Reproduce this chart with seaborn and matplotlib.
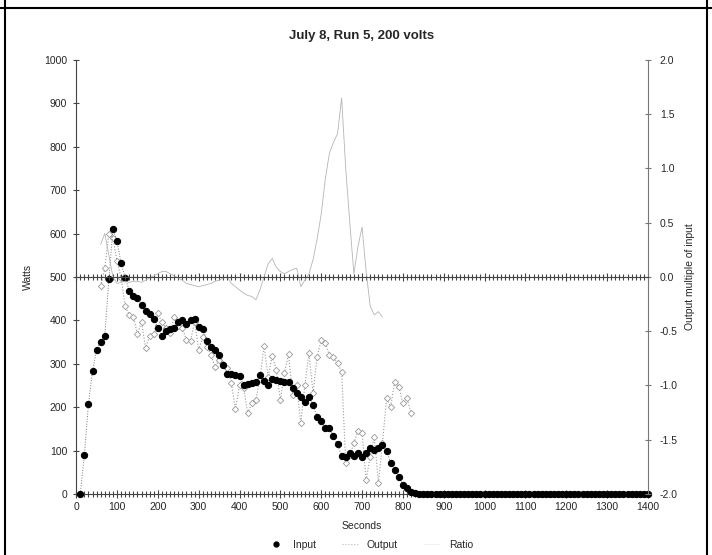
import numpy as np
import pandas as pd
import matplotlib
matplotlib.use('Agg')
import matplotlib.pyplot as plt
from matplotlib.lines import Line2D
from matplotlib.ticker import MultipleLocator
import seaborn as sns

# Input power (W), sampled every 10 s from 10 s to 1400 s
input_seconds = list(range(10, 1410, 10))
input_watts = [0, 90, 207, 283, 332, 351, 363, 495, 610, 582,
               531, 498, 468, 455, 451, 436, 422, 415, 403, 383,
               365, 376, 381, 382, 396, 401, 392, 401, 404, 384,
               380, 352, 339, 332, 321, 297, 277, 276, 275, 272,
               250, 253, 255, 257, 273, 261, 251, 265, 263, 260,
               258, 257, 243, 233, 224, 211, 224, 204, 178, 167,
               151, 151, 134, 114, 88, 86, 94, 88, 95, 86,
               95, 105, 101, 105, 113, 100, 72, 55, 40, 21,
               13, 5, 2] + [0] * 57

# Output power (W), 60 s to 820 s
output_seconds = list(range(60, 830, 10))
output_watts = [479, 520, 600, 590, 537, 498, 433, 412, 408, 369,
                396, 337, 364, 368, 416, 396, 382, 370, 408, 386,
                382, 355, 353, 397, 332, 362, 339, 320, 293, 309,
                300, 290, 255, 196, 250, 245, 186, 209, 217, 266,
                341, 270, 318, 286, 217, 278, 323, 228, 251, 163,
                251, 324, 233, 316, 355, 347, 320, 316, 301, 282,
                71, 90, 117, 146, 140, 32, 86, 132, 25, 117,
                220, 201, 259, 247, 209, 220, 186]

# Ratio (output multiple of input), 60 s to 750 s
ratio_seconds = list(range(60, 760, 10))
ratio_values = [0.30, 0.40, 0.20, 0.00, -0.06, -0.05, -0.04, -0.05, -0.04, -0.04,
                -0.05, -0.03, -0.01, 0.01, 0.03, 0.05, 0.05, 0.03, 0.01, -0.01,
                -0.03, -0.06, -0.07, -0.08, -0.09, -0.08, -0.07, -0.06, -0.04, -0.03,
                -0.01, 0.00, -0.06, -0.09, -0.12, -0.15, -0.17, -0.18, -0.21, -0.12,
                0.00, 0.12, 0.17, 0.09, 0.05, 0.03, 0.05, 0.07, 0.08, -0.09,
                -0.03, 0.03, 0.16, 0.35, 0.58, 0.90, 1.14, 1.24, 1.32, 1.65,
                1.00, 0.50, 0.03, 0.28, 0.46, 0.05, -0.27, -0.35, -0.32, -0.37]

inp = pd.DataFrame({'Seconds': input_seconds, 'Watts': input_watts})
out = pd.DataFrame({'Seconds': output_seconds, 'Watts': output_watts})
rat = pd.DataFrame({'Seconds': ratio_seconds, 'Ratio': ratio_values})

sns.set_style('white')
plt.rcParams['font.family'] = ['Liberation Sans', 'DejaVu Sans']

fig = plt.figure(figsize=(7.12, 5.55), dpi=100)
ax = fig.add_axes([0.107, 0.110, 0.803, 0.782])
ax2 = ax.twinx()

sns.lineplot(data=inp, x='Seconds', y='Watts', ax=ax, color='#777777',
             linestyle=':', linewidth=0.7, marker='o', markersize=4.5,
             markerfacecolor='black', markeredgecolor='black', clip_on=False,
             zorder=4)
sns.lineplot(data=out, x='Seconds', y='Watts', ax=ax, color='#999999',
             linestyle=':', linewidth=0.8, marker='D', markersize=3.2,
             markerfacecolor='white', markeredgecolor='#999999',
             markeredgewidth=0.6, zorder=3)
sns.lineplot(data=rat, x='Seconds', y='Ratio', ax=ax2, color='#b5b5b5',
             linewidth=0.6, zorder=2)

ax.set_xlim(0, 1400)
ax.set_ylim(0, 1000)
ax2.set_ylim(-2, 2)

ax.xaxis.set_major_locator(MultipleLocator(100))
ax.xaxis.set_minor_locator(MultipleLocator(10))
ax.yaxis.set_major_locator(MultipleLocator(100))
ax2.yaxis.set_major_locator(MultipleLocator(0.5))
ax2.yaxis.set_major_formatter(plt.FuncFormatter(lambda v, p: f'{v:.1f}'))

axis_col = '#444444'
for s in ['top', 'right']:
    ax.spines[s].set_visible(False)
for s in ['top', 'left']:
    ax2.spines[s].set_visible(False)
ax.spines['left'].set_color(axis_col)
ax.spines['bottom'].set_color(axis_col)
ax2.spines['right'].set_color('#777777')

# secondary category axis crossing at ratio 0
ax2.xaxis.set_visible(True)
ax2.spines['bottom'].set_position(('data', 0))
ax2.spines['bottom'].set_color(axis_col)
ax2.tick_params(axis='x', which='both', bottom=True, top=False,
                labelbottom=False, direction='inout', color=axis_col,
                width=0.8)
ax2.tick_params(axis='x', which='major', length=6)
ax2.tick_params(axis='x', which='minor', length=5)
ax2.set_xlabel('')

ax.tick_params(axis='x', which='both', bottom=True, direction='inout',
               color=axis_col, width=0.8, labelsize=7.5, pad=3)
ax.tick_params(axis='x', which='major', length=6)
ax.tick_params(axis='x', which='minor', length=5)
ax.tick_params(axis='y', left=True, direction='inout', length=5,
               color=axis_col, labelsize=7.5, pad=4)
ax2.tick_params(axis='y', right=True, direction='inout', length=5,
                color='#777777', labelsize=7.5, pad=6)

ax.set_xlabel('Seconds', fontsize=7.5, labelpad=6)
ax.set_ylabel('Watts', fontsize=7.5, labelpad=8)
ax2.set_ylabel('Output multiple of input', fontsize=7.5, labelpad=5)

fig.text(0.508, 0.935, 'July 8, Run 5, 200 volts', ha='center', va='center',
         fontsize=9.5, fontweight='bold')

handles = [
    Line2D([], [], color='black', linestyle='none', marker='o', markersize=3.5),
    Line2D([], [], color='#bbbbbb', linestyle=':', linewidth=0.8),
    Line2D([], [], color='#eeeeee', linewidth=0.6),
]
fig.legend(handles, ['Input', 'Output', 'Ratio'], loc='center',
           bbox_to_anchor=(0.52, 0.018), ncol=3, frameon=False, fontsize=7.5,
           handlelength=1.6, columnspacing=2.5, handletextpad=0.8)

# outer frame
fig.add_artist(Line2D([0.007, 0.007], [0, 1], transform=fig.transFigure,
                      color='black', linewidth=1.5))
fig.add_artist(Line2D([0.993, 0.993], [0, 1], transform=fig.transFigure,
                      color='black', linewidth=1.5))
fig.add_artist(Line2D([0, 1], [0.986, 0.986], transform=fig.transFigure,
                      color='black', linewidth=1.5))

fig.savefig('out.png', dpi=100)
